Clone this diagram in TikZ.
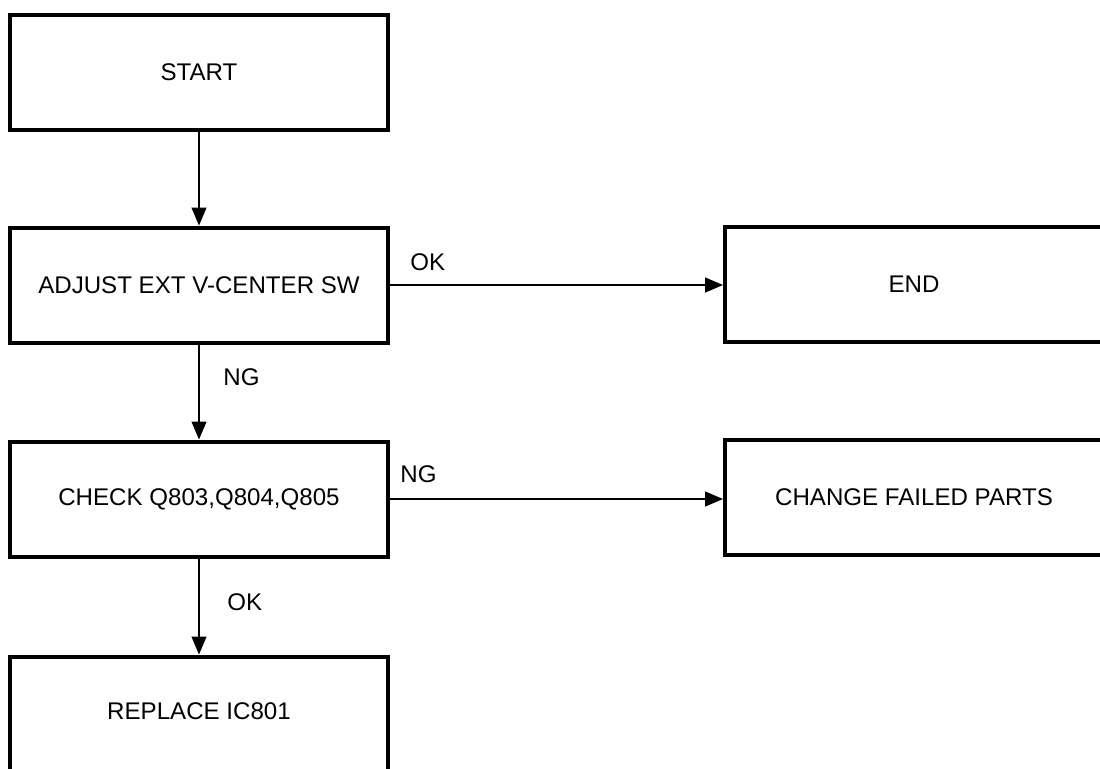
\documentclass[tikz,border=0pt]{standalone}
\usepackage{fontspec}
\setmainfont{Liberation Sans}
\usetikzlibrary{arrows.meta}
\begin{document}
\begin{tikzpicture}[x=0.5pt,y=-0.5pt,
  flowbox/.style={draw=black, line width=2pt, minimum width=189pt, minimum height=57.5pt,
    inner sep=0pt, font=\fontsize{12.05pt}{14pt}\selectfont, text=black},
  flowline/.style={line width=0.6pt, -{Triangle[length=9pt,width=7.5pt]}},
  lbl/.style={anchor=base west, inner sep=0pt, font=\fontsize{12.05pt}{14pt}\selectfont}]
\useasboundingbox (0,0) rectangle (1100,768);
\clip (0,0) rectangle (1100,768);
\node[flowbox] (start) at (199,72) {START};
\node[flowbox] (adj) at (199,285) {ADJUST EXT V-CENTER SW};
\node[flowbox] (chk) at (199,499) {CHECK Q803,Q804,Q805};
\node[flowbox] (rep) at (199,714) {};
\node at (199,711) [font=\fontsize{12.05pt}{14pt}\selectfont] (reptext) {REPLACE IC801};
\node[flowbox] (end) at (914,284) {END};
\node[flowbox] (chg) at (914,497) {CHANGE FAILED PARTS};
\draw[flowline] (start) -- (adj);
\draw[flowline] (adj) -- (chk);
\draw[flowline] (chk) -- (rep);
\draw[flowline] (adj.east) -- (adj.east -| end.west);
\draw[flowline] (chk.east) -- (chk.east -| chg.west);
\node[lbl] (l1) at (410,270) {OK};
\node[lbl] (l2) at (223,385) {NG};
\node[lbl] (l3) at (400,482) {NG};
\node[lbl] (l4) at (227,610) {OK};
\end{tikzpicture}
\end{document}
